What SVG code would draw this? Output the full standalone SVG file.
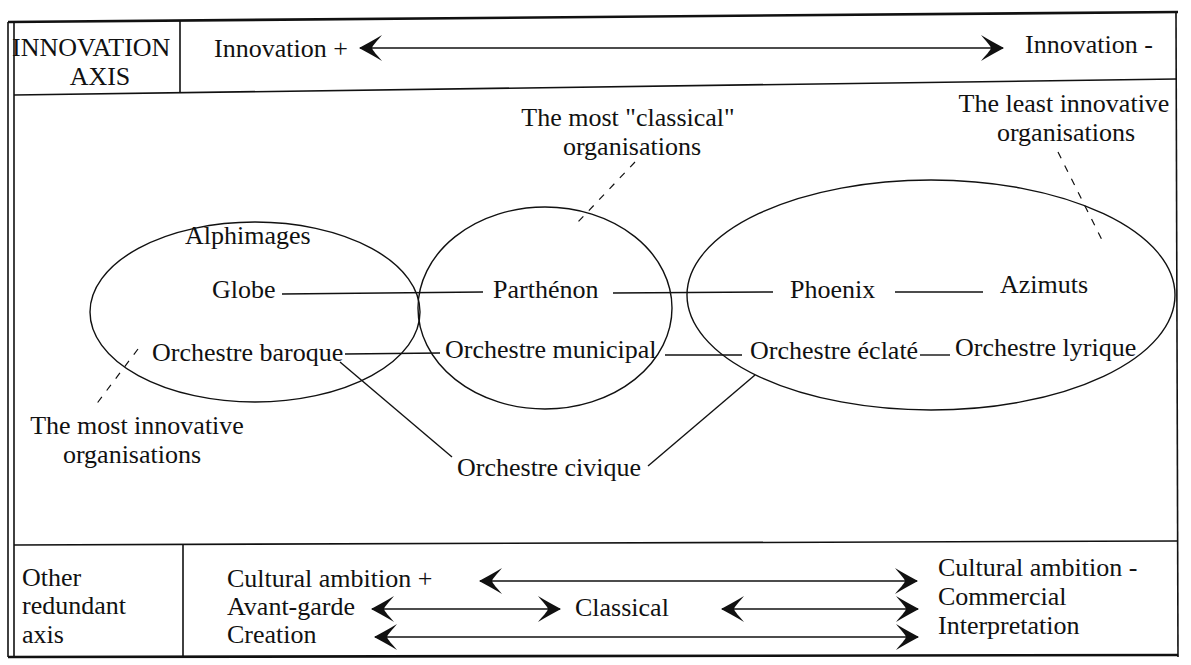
<svg xmlns="http://www.w3.org/2000/svg" width="1191" height="665" viewBox="0 0 1191 665">
<style>
text{font-family:"Liberation Serif","Times New Roman",serif;font-size:26px;fill:#111}
.frame{stroke:#111;fill:none;stroke-width:1.6}
.thick{stroke:#111;fill:none;stroke-width:2.6}
.ell{stroke:#111;fill:none;stroke-width:1.4}
.link{stroke:#111;fill:none;stroke-width:1.4}
.dash{stroke:#111;fill:none;stroke-width:1.2;stroke-dasharray:7 8}
.axis{stroke:#111;fill:none;stroke-width:1.6;marker-start:url(#chev);marker-end:url(#chev)}
</style>
<defs>
<marker id="chev" markerUnits="userSpaceOnUse" viewBox="-24 -14 26 28" markerWidth="26" markerHeight="28" refX="0" refY="0" orient="auto-start-reverse">
<path d="M1,0 C-7,-4 -15,-9 -22,-13 C-17,-7 -13,-3 -12,0 C-13,3 -17,7 -22,13 C-15,9 -7,4 1,0 Z" fill="#111"/>
</marker>
</defs>
<rect width="1191" height="665" fill="#fff"/>
<g id="frame">
<line class="thick" x1="8" y1="22" x2="1178" y2="12"/>
<line class="frame" x1="8" y1="22" x2="8" y2="657"/>
<line class="frame" x1="14" y1="22" x2="14" y2="657"/>
<line class="frame" x1="1176" y1="12" x2="1178" y2="657"/>
<line class="thick" x1="8" y1="657" x2="1178" y2="655"/>
<line class="frame" x1="14" y1="95" x2="1176" y2="79"/>
<line class="frame" x1="180" y1="21" x2="180" y2="93" stroke-width="1"/>
<line class="frame" x1="14" y1="545" x2="1177" y2="541"/>
<line class="frame" x1="183" y1="545" x2="183" y2="657" stroke-width="1"/>
</g>
<g id="header">
<text x="12" y="56">INNOVATION</text>
<text x="100" y="85" text-anchor="middle">AXIS</text>
<text x="214" y="57">Innovation +</text>
<text x="1025" y="53">Innovation -</text>
</g>
<g id="annotations">
<text x="628" y="126" text-anchor="middle">The most "classical"</text>
<text x="632" y="155" text-anchor="middle">organisations</text>
<text x="1064" y="112" text-anchor="middle">The least innovative</text>
<text x="1066" y="141" text-anchor="middle">organisations</text>
<text x="137" y="434" text-anchor="middle">The most innovative</text>
<text x="132" y="463" text-anchor="middle">organisations</text>
</g>
<g id="ellipses">
<ellipse id="group-innovative" class="ell" cx="255" cy="312" rx="165" ry="90"/>
<ellipse id="group-classical" class="ell" cx="545" cy="308" rx="127" ry="101"/>
<ellipse id="group-least" class="ell" cx="931" cy="295" rx="244" ry="115"/>
</g>
<g id="connectors">
<line class="dash" x1="635" y1="162" x2="578" y2="222"/>
<line class="dash" x1="1058" y1="152" x2="1102" y2="240"/>
<line class="dash" x1="138" y1="349" x2="95" y2="406"/>
<line class="link" x1="282" y1="294" x2="483" y2="292"/>
<line class="link" x1="613" y1="293" x2="773" y2="292"/>
<line class="link" x1="895" y1="292" x2="983" y2="292"/>
<line class="link" x1="345" y1="354" x2="440" y2="353"/>
<line class="link" x1="665" y1="355" x2="742" y2="355"/>
<line class="link" x1="920" y1="355" x2="950" y2="355"/>
<line class="link" x1="340" y1="362" x2="452" y2="457"/>
<line class="link" x1="648" y1="466" x2="755" y2="375"/>
<line class="axis" x1="360" y1="48" x2="1003" y2="48"/>
<line class="axis" x1="480" y1="581" x2="917" y2="581"/>
<line class="axis" x1="372" y1="609" x2="560" y2="609"/>
<line class="axis" x1="722" y1="609" x2="918" y2="609"/>
<line class="axis" x1="375" y1="637" x2="918" y2="637"/>
</g>
<g id="alphimages"><text x="185" y="244">Alphimages</text></g>
<g id="globe"><text x="212" y="298">Globe</text></g>
<g id="parthenon"><text x="493" y="298">Parthénon</text></g>
<g id="phoenix"><text x="790" y="298">Phoenix</text></g>
<g id="azimuts"><text x="1000" y="293">Azimuts</text></g>
<g id="orchestre-baroque"><text x="152" y="361">Orchestre baroque</text></g>
<g id="orchestre-municipal"><text x="445" y="358">Orchestre municipal</text></g>
<g id="orchestre-eclate"><text x="750" y="359">Orchestre éclaté</text></g>
<g id="orchestre-lyrique"><text x="955" y="356">Orchestre lyrique</text></g>
<g id="orchestre-civique"><text x="457" y="476">Orchestre civique</text></g>
<g id="bottom-axis">
<text x="22" y="586">Other</text>
<text x="22" y="614">redundant</text>
<text x="22" y="643">axis</text>
<text x="227" y="587">Cultural ambition +</text>
<text x="227" y="615">Avant-garde</text>
<text x="227" y="643">Creation</text>
<text x="575" y="616">Classical</text>
<text x="938" y="576">Cultural ambition -</text>
<text x="938" y="605">Commercial</text>
<text x="938" y="634">Interpretation</text>
</g>
</svg>
